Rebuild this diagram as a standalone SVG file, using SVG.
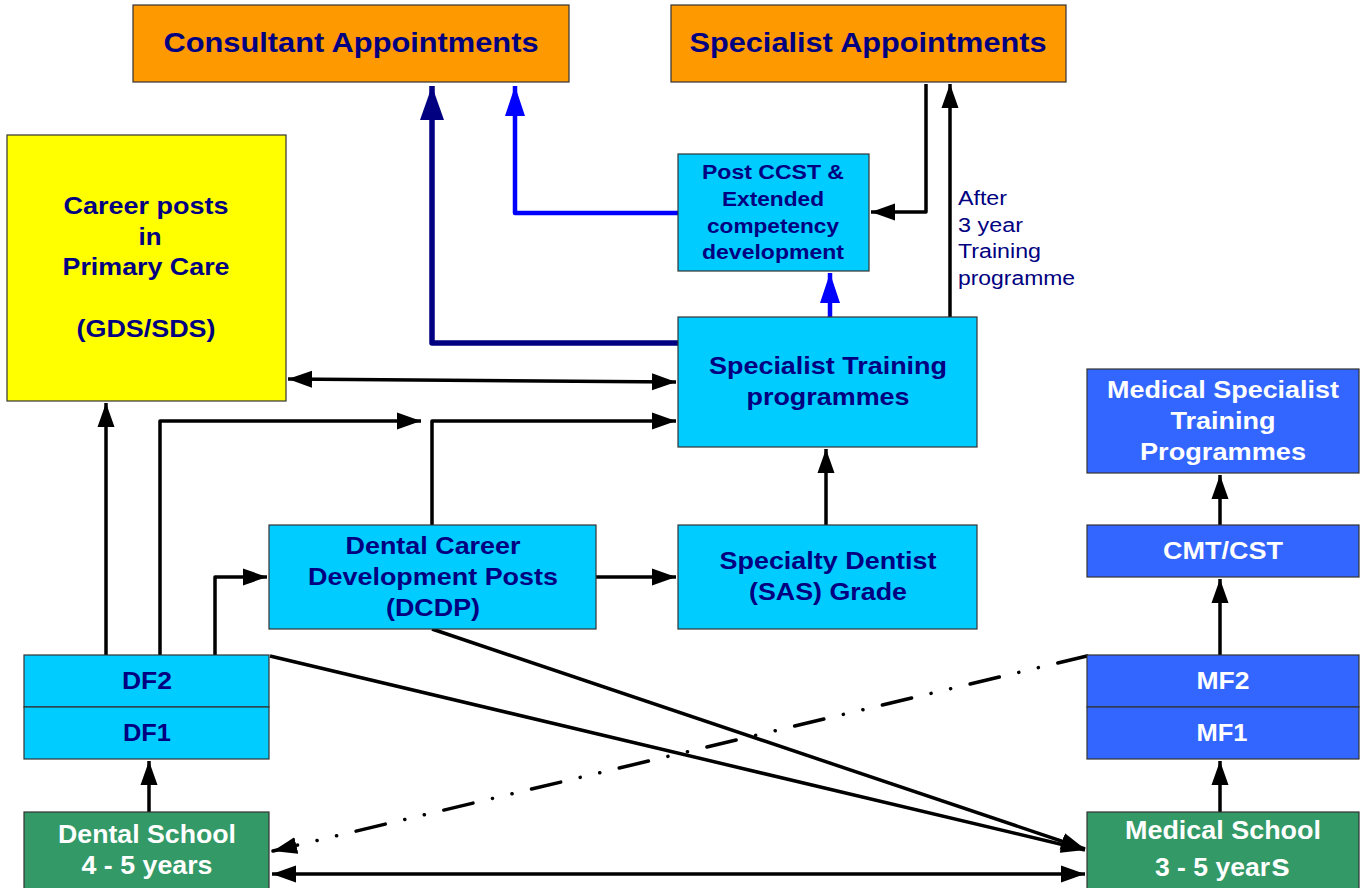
<svg xmlns="http://www.w3.org/2000/svg" width="1361" height="888" viewBox="0 0 1361 888">
<defs>
<style>
.box{stroke:#333;stroke-width:1.2}
.or{fill:#FF9900}
.ye{fill:#FFFF00}
.cy{fill:#00CCFF}
.bl{fill:#3366FF}
.gr{fill:#339966}
text{font-family:"Liberation Sans",Arial,sans-serif;font-weight:bold;text-anchor:middle}
.nv{fill:#000080}
.wh{fill:#FFFFFF}
.ln{fill:none;stroke:#000;stroke-width:3.5;stroke-linejoin:round}
</style>
<marker id="ah" markerUnits="userSpaceOnUse" markerWidth="26" markerHeight="18" refX="24" refY="9" orient="auto-start-reverse" viewBox="0 0 26 18"><path d="M0,0.5 L24,9 L0,17.5 Z" fill="#000"/></marker>
<marker id="ahn" markerUnits="userSpaceOnUse" markerWidth="36" markerHeight="26" refX="34" refY="13" orient="auto" viewBox="0 0 36 26"><path d="M0,1 L34,13 L0,25 Z" fill="#000080"/></marker>
<marker id="ahb" markerUnits="userSpaceOnUse" markerWidth="32" markerHeight="22" refX="30" refY="11" orient="auto" viewBox="0 0 32 22"><path d="M0,1 L30,11 L0,21 Z" fill="#0000FF"/></marker>
</defs>
<rect width="1361" height="888" fill="#fff"/>

<g id="connectors">
<path class="ln" d="M680,343 L432,343 L432,86" style="stroke:#000080;stroke-width:5.5" marker-end="url(#ahn)"/>
<path class="ln" d="M678,213 L515,213 L515,86" style="stroke:#0000FF;stroke-width:4.5" marker-end="url(#ahb)"/>
<path class="ln" d="M830,317 L830,273" style="stroke:#0000FF;stroke-width:4.5" marker-end="url(#ahb)"/>
<path class="ln" d="M926,84 L926,212 L871,212" marker-end="url(#ah)"/>
<path class="ln" d="M950,317 L950,84" marker-end="url(#ah)"/>
<path class="ln" d="M288,379 L676,382" marker-start="url(#ah)" marker-end="url(#ah)"/>
<path class="ln" d="M106,655 L106,403" marker-end="url(#ah)"/>
<path class="ln" d="M160,655 L160,421 L421,421" marker-end="url(#ah)"/>
<path class="ln" d="M432,525 L432,421 L676,421" marker-end="url(#ah)"/>
<path class="ln" d="M215,655 L215,577 L267,577" marker-end="url(#ah)"/>
<path class="ln" d="M596,577 L676,577" marker-end="url(#ah)"/>
<path class="ln" d="M826,525 L826,449" marker-end="url(#ah)"/>
<path class="ln" d="M149,812 L149,761" marker-end="url(#ah)"/>
<path class="ln" d="M1220,812 L1220,761" marker-end="url(#ah)"/>
<path class="ln" d="M1220,655 L1220,579" marker-end="url(#ah)"/>
<path class="ln" d="M1220,525 L1220,475" marker-end="url(#ah)"/>
<path class="ln" d="M272,874 L1085,874" marker-start="url(#ah)" marker-end="url(#ah)"/>
<path class="ln" d="M270,656 L1085,850" marker-end="url(#ah)"/>
<path class="ln" d="M432,629 L1085,849" marker-end="url(#ah)"/>
<path class="ln" d="M1087,656 L273,851" style="stroke-dasharray:30 20 0.1 20 0.1 20;stroke-linecap:round" marker-end="url(#ah)"/>
</g>

<g id="consultant">
<rect class="box or" x="133" y="5" width="436" height="77"/>
<text class="nv" x="351" y="52" font-size="28" textLength="375" lengthAdjust="spacingAndGlyphs">Consultant Appointments</text>
</g>
<g id="specialist-appointments">
<rect class="box or" x="671" y="5" width="395" height="77"/>
<text class="nv" x="868" y="52" font-size="28" textLength="357" lengthAdjust="spacingAndGlyphs">Specialist Appointments</text>
</g>
<g id="career-posts">
<rect class="box ye" x="7" y="135" width="279" height="266"/>
<text class="nv" font-size="24"><tspan x="146" y="214" textLength="165" lengthAdjust="spacingAndGlyphs">Career posts</tspan><tspan x="150" y="245" textLength="23" lengthAdjust="spacingAndGlyphs">in</tspan><tspan x="146" y="275" textLength="167" lengthAdjust="spacingAndGlyphs">Primary Care</tspan><tspan x="146" y="337" textLength="139" lengthAdjust="spacingAndGlyphs">(GDS/SDS)</tspan></text>
</g>
<g id="post-ccst">
<rect class="box cy" x="678" y="154" width="191" height="117"/>
<text class="nv" font-size="20"><tspan x="773" y="179" textLength="142" lengthAdjust="spacingAndGlyphs">Post CCST &amp;</tspan><tspan x="773" y="206" textLength="102" lengthAdjust="spacingAndGlyphs">Extended</tspan><tspan x="773" y="233" textLength="132" lengthAdjust="spacingAndGlyphs">competency</tspan><tspan x="773" y="259" textLength="142" lengthAdjust="spacingAndGlyphs">development</tspan></text>
</g>
<text id="after-label" style="font-weight:normal;text-anchor:start" class="nv" font-size="20"><tspan x="958" y="205" textLength="49" lengthAdjust="spacingAndGlyphs">After</tspan><tspan x="958" y="232" textLength="65" lengthAdjust="spacingAndGlyphs">3 year</tspan><tspan x="958" y="258" textLength="83" lengthAdjust="spacingAndGlyphs">Training</tspan><tspan x="958" y="285" textLength="117" lengthAdjust="spacingAndGlyphs">programme</tspan></text>
<g id="specialist-training">
<rect class="box cy" x="678" y="317" width="299" height="130"/>
<text class="nv" font-size="24"><tspan x="828" y="374" textLength="238" lengthAdjust="spacingAndGlyphs">Specialist Training</tspan><tspan x="828" y="405" textLength="163" lengthAdjust="spacingAndGlyphs">programmes</tspan></text>
</g>
<g id="medical-specialist">
<rect class="box bl" x="1087" y="369" width="272" height="104"/>
<text class="wh" font-size="24"><tspan x="1223" y="398" textLength="232" lengthAdjust="spacingAndGlyphs">Medical Specialist</tspan><tspan x="1223" y="429" textLength="105" lengthAdjust="spacingAndGlyphs">Training</tspan><tspan x="1223" y="460" textLength="166" lengthAdjust="spacingAndGlyphs">Programmes</tspan></text>
</g>
<g id="cmt-cst">
<rect class="box bl" x="1087" y="525" width="272" height="52"/>
<text class="wh" x="1223" y="559" font-size="24" textLength="120" lengthAdjust="spacingAndGlyphs">CMT/CST</text>
</g>
<g id="dcdp">
<rect class="box cy" x="269" y="525" width="327" height="104"/>
<text class="nv" font-size="24"><tspan x="433" y="554" textLength="175" lengthAdjust="spacingAndGlyphs">Dental Career</tspan><tspan x="433" y="585" textLength="250" lengthAdjust="spacingAndGlyphs">Development Posts</tspan><tspan x="433" y="616" textLength="94" lengthAdjust="spacingAndGlyphs">(DCDP)</tspan></text>
</g>
<g id="specialty-dentist">
<rect class="box cy" x="678" y="525" width="299" height="104"/>
<text class="nv" font-size="24"><tspan x="828" y="569" textLength="217" lengthAdjust="spacingAndGlyphs">Specialty Dentist</tspan><tspan x="828" y="600" textLength="158" lengthAdjust="spacingAndGlyphs">(SAS) Grade</tspan></text>
</g>
<g id="df2">
<rect class="box cy" x="24" y="655" width="245" height="52"/>
<text class="nv" x="147" y="689" font-size="24" textLength="50" lengthAdjust="spacingAndGlyphs">DF2</text>
</g>
<g id="df1">
<rect class="box cy" x="24" y="707" width="245" height="52"/>
<text class="nv" x="147" y="741" font-size="24" textLength="48" lengthAdjust="spacingAndGlyphs">DF1</text>
</g>
<g id="mf2">
<rect class="box bl" x="1087" y="655" width="272" height="52"/>
<text class="wh" x="1223" y="689" font-size="24" textLength="53" lengthAdjust="spacingAndGlyphs">MF2</text>
</g>
<g id="mf1">
<rect class="box bl" x="1087" y="707" width="272" height="52"/>
<text class="wh" x="1222" y="741" font-size="24" textLength="51" lengthAdjust="spacingAndGlyphs">MF1</text>
</g>
<g id="dental-school">
<rect class="box gr" x="24" y="812" width="245" height="80"/>
<text class="wh" font-size="25"><tspan x="147" y="843" textLength="178" lengthAdjust="spacingAndGlyphs">Dental School</tspan><tspan x="147" y="874" textLength="131" lengthAdjust="spacingAndGlyphs">4 - 5 years</tspan></text>
</g>
<g id="medical-school">
<rect class="box gr" x="1087" y="812" width="272" height="80"/>
<text class="wh" font-size="25"><tspan x="1223" y="839" textLength="196" lengthAdjust="spacingAndGlyphs">Medical School</tspan></text>
<text class="wh" font-size="25" style="text-anchor:start"><tspan x="1155" y="876" textLength="115" lengthAdjust="spacingAndGlyphs">3 - 5 year</tspan><tspan x="1271" y="876" font-size="31" textLength="19" lengthAdjust="spacingAndGlyphs">s</tspan></text>
</g>
</svg>
